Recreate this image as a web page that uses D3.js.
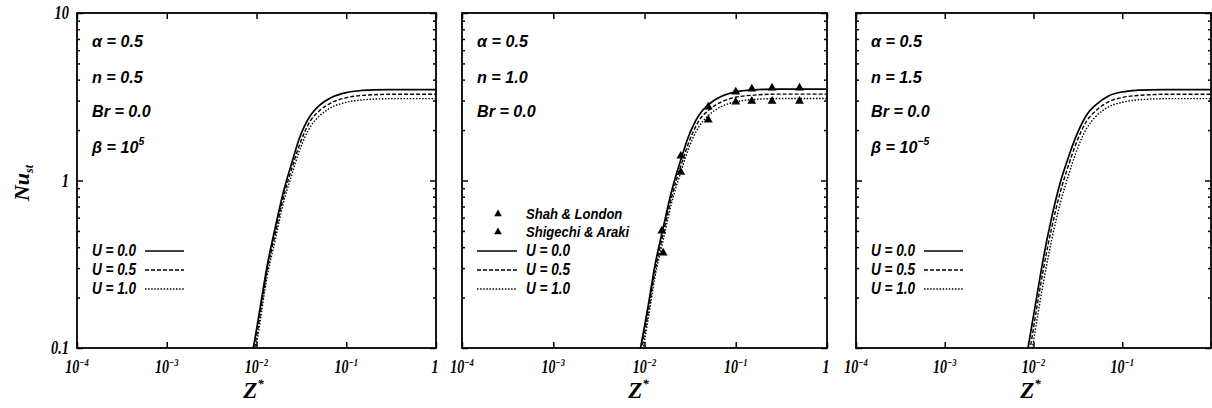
<!DOCTYPE html>
<html>
<head>
<meta charset="utf-8">
<script src="https://cdn.jsdelivr.net/npm/d3@7"></script>
<style>
  html, body { margin: 0; padding: 0; background: #fff; }
  svg { display: block; }
  .serif { font-family: "Liberation Serif", "DejaVu Serif", serif; font-weight: bold; font-style: italic; }
  .narrow { font-family: "Liberation Sans Narrow", "Liberation Sans", Arial, sans-serif; font-weight: bold; font-style: italic; }
</style>
</head>
<body>
<svg id="chart" width="1212" height="408"></svg>
<script>
// Dimensionless axial distance Z* shared by every computed curve
const zGrid = [0.008, 0.0092, 0.011, 0.013, 0.016, 0.02, 0.025, 0.03, 0.04, 0.05, 0.07, 0.1, 0.15, 0.2, 0.3, 0.5, 1];

// Local Nusselt number, panel n = 0.5 (beta = 1e5)
const nuN05U00 = [0.07, 0.10, 0.175, 0.30, 0.51, 0.86, 1.30, 1.78, 2.45, 2.80, 3.15, 3.35, 3.45, 3.48, 3.49, 3.49, 3.49];
const nuN05U05 = [0.062, 0.09, 0.16, 0.28, 0.47, 0.80, 1.20, 1.62, 2.28, 2.60, 2.93, 3.12, 3.22, 3.25, 3.27, 3.27, 3.27];
const nuN05U10 = [0.055, 0.08, 0.145, 0.26, 0.43, 0.74, 1.10, 1.50, 2.10, 2.42, 2.75, 2.93, 3.03, 3.06, 3.08, 3.08, 3.08];

// Panel n = 1.0 (Newtonian)
const nuN10U00 = [0.072, 0.105, 0.18, 0.31, 0.52, 0.88, 1.33, 1.80, 2.48, 2.83, 3.18, 3.38, 3.47, 3.50, 3.51, 3.51, 3.51];
const nuN10U05 = [0.064, 0.095, 0.165, 0.285, 0.48, 0.81, 1.22, 1.64, 2.30, 2.62, 2.95, 3.14, 3.23, 3.26, 3.28, 3.28, 3.28];
const nuN10U10 = [0.057, 0.085, 0.15, 0.265, 0.44, 0.75, 1.12, 1.52, 2.12, 2.44, 2.77, 2.95, 3.04, 3.07, 3.09, 3.09, 3.09];

// Panel n = 1.5 (beta = 1e-5)
const nuN15U00 = [0.078, 0.12, 0.21, 0.35, 0.60, 0.97, 1.40, 1.82, 2.48, 2.82, 3.20, 3.38, 3.46, 3.48, 3.49, 3.49, 3.49];
const nuN15U05 = [0.064, 0.10, 0.18, 0.30, 0.52, 0.85, 1.25, 1.65, 2.28, 2.60, 2.95, 3.13, 3.22, 3.25, 3.27, 3.27, 3.27];
const nuN15U10 = [0.053, 0.083, 0.15, 0.25, 0.44, 0.73, 1.09, 1.46, 2.06, 2.40, 2.75, 2.93, 3.03, 3.06, 3.08, 3.08, 3.08];

// Reference solutions (n = 1.0)
const shahZ  = [0.0155, 0.025, 0.05, 0.1, 0.15, 0.25, 0.5];
const shahNu = [0.50, 1.40, 2.75, 3.38, 3.52, 3.57, 3.57];
const shigZ  = [0.016, 0.025, 0.05, 0.1, 0.15, 0.25, 0.5];
const shigNu = [0.37, 1.12, 2.30, 2.94, 2.98, 2.98, 2.98];

// Axis ticks
const xTickExps = [-4, -3, -2, -1];
const yMajor = [0.1, 1, 10];
const yMajorLabels = ["0.1", "1", "10"];
const yMinor = [0.2, 0.3, 0.4, 0.5, 0.6, 0.7, 0.8, 0.9, 2, 3, 4, 5, 6, 7, 8, 9];

// Legend entries
const uLabels = ["U = 0.0", "U = 0.5", "U = 1.0"];
const refLabels = ["Shah & London", "Shigechi & Araki"];

// Panel annotations: [main text, superscript]
const panelNotes = [
  [["α = 0.5", ""], ["n = 0.5", ""], ["Br = 0.0", ""], ["β = 10", "5"]],
  [["α = 0.5", ""], ["n = 1.0", ""], ["Br = 0.0", ""]],
  [["α = 0.5", ""], ["n = 1.5", ""], ["Br = 0.0", ""], ["β = 10", "-5"]]
];
const panelSeries = [
  [nuN05U00, nuN05U05, nuN05U10],
  [nuN10U00, nuN10U05, nuN10U10],
  [nuN15U00, nuN15U05, nuN15U10]
];

// Layout
const panelX = [[77, 436], [462, 827], [856, 1211]];
const plotTop = 13, plotBottom = 348;
const dashes = [null, "4,2", "1.5,1.6"];
const rightLabel = [true, true, false];

const svg = d3.select("#chart");
const y = d3.scaleLog().domain([0.1, 10]).range([plotBottom, plotTop]);

// Text condensed horizontally, anchored at (x, y)
function condensed(parent, cls, x, yy, size, sx, anchor) {
  return parent.append("text").attr("class", cls)
    .attr("transform", `translate(${x},${yy}) scale(${sx},1)`)
    .attr("font-size", size)
    .attr("text-anchor", anchor || "start");
}

panelX.forEach(([x0, x1], p) => {
  const x = d3.scaleLog().domain([1e-4, 1]).range([x0, x1]);
  const g = svg.append("g");
  const clipId = "clip" + p;
  svg.append("clipPath").attr("id", clipId)
    .append("rect").attr("x", x0).attr("y", plotTop).attr("width", x1 - x0).attr("height", plotBottom - plotTop);

  // Curves
  const line = d3.line()
    .x((d, i) => x(zGrid[i]))
    .y(d => y(d))
    .curve(d3.curveMonotoneX);
  panelSeries[p].forEach((arr, k) => {
    g.append("path")
      .attr("clip-path", `url(#${clipId})`)
      .attr("d", line(arr))
      .attr("fill", "none")
      .attr("stroke", "#000")
      .attr("stroke-width", k === 0 ? 1.7 : 1.4)
      .attr("stroke-dasharray", dashes[k]);
  });

  // Reference markers
  if (p === 1) {
    const tri = d3.symbol().type(d3.symbolTriangle).size(34);
    [[shahZ, shahNu], [shigZ, shigNu]].forEach(([zs, ns]) => {
      g.selectAll(null).data(zs).enter().append("path")
        .attr("d", tri)
        .attr("transform", (d, i) => `translate(${x(d)},${y(ns[i])})`)
        .attr("fill", "#000");
    });
  }

  // Frame
  g.append("rect").attr("x", x0).attr("y", plotTop).attr("width", x1 - x0).attr("height", plotBottom - plotTop)
    .attr("fill", "none").attr("stroke", "#000").attr("stroke-width", 1.8);

  // Major x ticks (bottom and top, inward)
  const xt = xTickExps.map(e => Math.pow(10, e)).concat([1]);
  g.append("g").attr("transform", `translate(0,${plotBottom})`)
    .call(d3.axisBottom(x).tickValues(xt).tickSize(-6).tickFormat(""))
    .call(s => s.select(".domain").remove());
  g.append("g").attr("transform", `translate(0,${plotTop})`)
    .call(d3.axisTop(x).tickValues(xt).tickSize(-6).tickFormat(""))
    .call(s => s.select(".domain").remove());

  // y ticks on both sides, inward
  [[x0, d3.axisLeft], [x1, d3.axisRight]].forEach(([xx, ax]) => {
    g.append("g").attr("transform", `translate(${xx},0)`)
      .call(ax(y).tickValues(yMajor).tickSize(-6).tickFormat(""))
      .call(s => s.select(".domain").remove());
    g.append("g").attr("transform", `translate(${xx},0)`)
      .call(ax(y).tickValues(yMinor).tickSize(-3).tickFormat(""))
      .call(s => s.select(".domain").remove());
  });
  g.selectAll(".tick line").attr("stroke", "#000").attr("stroke-width", 1.5);

  // x tick labels: 10^e
  xTickExps.forEach(e => {
    const t = condensed(g, "serif", x(Math.pow(10, e)), 373, 18, 0.78, "middle");
    t.append("tspan").text("10");
    t.append("tspan").attr("dy", -7).attr("font-size", 11).text("−" + (-e));
  });
  if (rightLabel[p]) {
    condensed(g, "serif", x(1) - 1, 373, 18, 0.78, "middle").text("1");
  }

  // x axis title Z*
  const xt2 = g.append("text").attr("class", "serif")
    .attr("x", (x0 + Math.min(x1, x0 + 359)) / 2 - 3).attr("y", 398)
    .attr("text-anchor", "middle").attr("font-size", 23);
  xt2.append("tspan").text("Z");
  xt2.append("tspan").attr("dy", -10).attr("font-size", 13).text("*");

  // Annotations
  const noteX = x0 + 15;
  const noteY = [47, 83, 117, 153];
  panelNotes[p].forEach(([txt, sup], i) => {
    const t = condensed(g, "narrow", noteX, noteY[i], 17, 0.95);
    t.append("tspan").text(txt);
    if (sup) t.append("tspan").attr("dy", -8).attr("font-size", 11).text(sup.replace("-", "−"));
  });

  // Legend
  const legY = [256, 275, 294];
  if (p === 1) {
    const tri = d3.symbol().type(d3.symbolTriangle).size(26);
    [219, 237].forEach((yy, i) => {
      g.append("path").attr("d", tri).attr("transform", `translate(${x0 + 36},${yy - 5})`).attr("fill", "#000");
      condensed(g, "narrow", x0 + 64, yy, 15, 0.87).text(refLabels[i]);
    });
    uLabels.forEach((lab, k) => {
      g.append("line").attr("x1", x0 + 15).attr("x2", x0 + 55)
        .attr("y1", legY[k] - 5).attr("y2", legY[k] - 5)
        .attr("stroke", "#000").attr("stroke-width", k === 0 ? 1.6 : 1.4)
        .attr("stroke-dasharray", dashes[k]);
      condensed(g, "narrow", x0 + 64, legY[k], 17, 0.8).text(lab);
    });
  } else {
    uLabels.forEach((lab, k) => {
      condensed(g, "narrow", x0 + 15, legY[k], 17, 0.8).text(lab);
      g.append("line").attr("x1", x0 + 68).attr("x2", x0 + 107)
        .attr("y1", legY[k] - 5).attr("y2", legY[k] - 5)
        .attr("stroke", "#000").attr("stroke-width", k === 0 ? 1.6 : 1.4)
        .attr("stroke-dasharray", dashes[k]);
    });
  }

  // y tick labels on the first panel only
  if (p === 0) {
    yMajor.forEach((v, i) => {
      condensed(g, "serif", x0 - 8, y(v) + 6, 18, 0.8, "end").text(yMajorLabels[i]);
    });
  }
});

// y axis title Nu_st
const yt = svg.append("text").attr("class", "serif")
  .attr("transform", "translate(29,183) rotate(-90)")
  .attr("text-anchor", "middle").attr("font-size", 22);
yt.append("tspan").text("Nu");
yt.append("tspan").attr("dy", 4).attr("font-size", 12).text("st");
</script>
</body>
</html>
